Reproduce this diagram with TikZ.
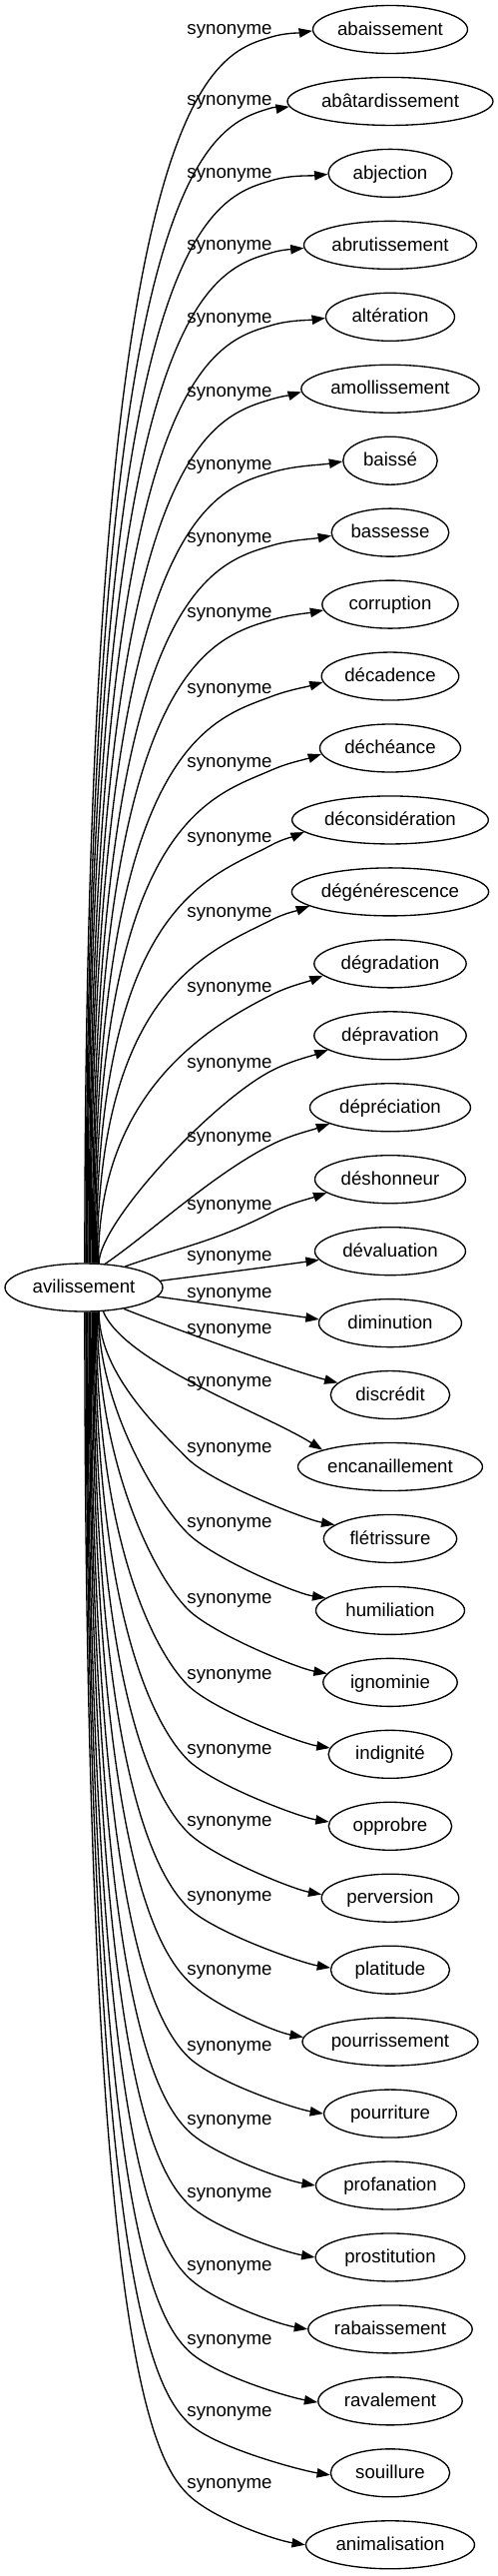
\documentclass[tikz,border=0pt]{standalone}
\usepackage{fontspec}
\setmainfont{Liberation Sans}
\usetikzlibrary{arrows.meta,shapes.geometric}
\begin{document}
\begin{tikzpicture}[x=0.75pt,y=-0.75pt,
  every node/.style={font=\fontsize{14pt}{16pt}\selectfont, inner sep=0pt, text height=11pt, text depth=2.5pt},
  word/.style={ellipse, draw, line width=1pt, minimum height=36pt},
  lab/.style={},
  edge/.style={draw, line width=1pt, -{Triangle[length=10pt,width=7pt]}}
]
\fill[white] (0,0) rectangle (499,2579);
\useasboundingbox (0,0) rectangle (499,2579);
\node[word, minimum width=118.5pt] (src) at (84,1289) {avilissement};
\foreach \i/\txt/\w/\L/\v in {
0/abaissement/155/29/1.5,
1/abâtardissement/206/100/6,
2/abjection/124/172.7/0.6,
3/abrutissement/173/245/2.3,
4/altération/129/317.7/1,
5/amollissement/178.3/391.7/3.7,
6/baissé/94.4/465/1,
7/bassesse/117.6/538.3/3.4,
8/corruption/136.3/612.7/5.7,
9/décadence/137.6/689.3/6,
10/déchéance/141/763/6,
11/déconsidération/196.7/838/12,
12/dégénérescence/197.3/913/14,
13/dégradation/152.4/988/12,
14/dépravation/152.4/1064/14,
15/dépréciation/161/1138/16,
16/déshonneur/151/1206/13,
17/dévaluation/151/1257.3/9,
18/diminution/143/1294/-4,
19/discrédit/119.3/1330/-12,
20/encanaillement/185/1382.7/-16.6,
21/flétrissure/133.3/1449.3/-14,
22/humiliation/149/1524/-12,
23/ignominie/134.4/1600/-9,
24/indignité/123.7/1676/-6,
25/opprobre/123.3/1750.7/-4,
26/perversion/137.6/1823.3/-4,
27/platitude/119/1898.3/-2,
28/pourrissement/176/1971.7/-5,
29/pourriture/132.7/2047.7/0,
30/profanation/149/2121.7/0,
31/prostitution/149.7/2195/0,
32/rabaissement/164.4/2268.3/0,
33/ravalement/144.4/2341.7/1,
34/souillure/119.3/2414/2.5,
35/animalisation/169/2486/0.5}{
  \pgfmathsetmacro\yy{29.5+71.95*\i}
  \node[word, minimum width=\w*0.75pt] (t\i) at (391,\yy) {\txt};
  \node[lab] (l\i) at (230,\L) {synonyme};
  \pgfmathsetmacro\dx{(\w/2)*sqrt(1-(\v/24)^2)}
  \pgfmathsetmacro\Ex{391-\dx}
  \pgfmathsetmacro\Ey{\yy+\v}
  \pgfmathtruncatemacro\eb{round(180+atan2(\v,\dx))}
  % upper edges
  \ifnum\i<17
    \ifnum\i<15 \pgfmathsetmacro\xs{85+\i}\fi
    \ifnum\i=15 \def\xs{105}\fi
    \ifnum\i=16 \def\xs{125}\fi
    \pgfmathsetmacro\sn{sqrt(1-((\xs-84)/79)^2)}
    \pgfmathtruncatemacro\al{round(atan2(24*\sn,\xs-84))}
    \pgfmathsetmacro\Sy{1289-24*\sn}
    \pgfmathsetmacro\Ky{\L+8}
    \pgfmathsetmacro\hh{\Sy-\Ky}
    \pgfmathsetmacro\cc{45+110*exp(-(\hh-191)/100)}
    \pgfmathsetmacro\Pay{\Ky+\cc}
    \edef\Pax{\xs}
    \ifnum\i=15 \def\Pax{150}\def\Pay{1235}\fi
    \ifnum\i=16 \def\Pax{175}\def\Pay{1250}\fi
    \pgfmathsetmacro\mm{(\Ey-\Ky)/(\Ex-272)}
    \pgfmathsetmacro\mk{min(1.4*\mm,-0.3)}
    \pgfmathsetmacro\Pby{\Ky-60*\mk}
    \pgfmathsetmacro\dd{(\Ex-272)/3}
    \pgfmathsetmacro\Pcx{272+\dd}
    \pgfmathsetmacro\Pcy{\Ky+\dd*\mk}
    \pgfmathsetmacro\Pdx{\Ex-\dd}
    \pgfmathsetmacro\Pdy{\Ey-\dd*\mm}
    \coordinate (k\i) at (272,\Ky);
    \draw[edge] (src.\al) .. controls (\Pax,\Pay) and (212,\Pby) .. (k\i)
      .. controls (\Pcx,\Pcy) and (\Pdx,\Pdy) .. (t\i.\eb);
  \fi
  % near-centre edges
  \ifnum\i>16 \ifnum\i<21
    \ifnum\i=17 \def\xs{160}\def\sg{1}\fi
    \ifnum\i=18 \def\xs{157}\def\sg{-1}\fi
    \ifnum\i=19 \def\xs{123}\def\sg{-1}\fi
    \ifnum\i=20 \def\xs{103}\def\sg{-1}\fi
    \pgfmathsetmacro\sn{sqrt(1-((\xs-84)/79)^2)}
    \pgfmathtruncatemacro\al{round(mod(360+(\sg)*atan2(24*\sn,\xs-84),360))}
    \pgfmathsetmacro\Sy{1289-(\sg)*24*\sn}
    \pgfmathsetmacro\Pax{\xs+(\Ex-\xs)/3}
    \pgfmathsetmacro\Pay{\Sy+(\Ey-\Sy)/3}
    \pgfmathsetmacro\Pbx{\xs+2*(\Ex-\xs)/3}
    \pgfmathsetmacro\Pby{\Sy+2*(\Ey-\Sy)/3}
    \ifnum\i=19 \def\Pax{168}\def\Pay{1328}\def\Pbx{290}\def\Pby{1372}\fi
    \ifnum\i=20 \def\Pax{125}\def\Pay{1365}\def\Pbx{265}\def\Pby{1415}\fi
    \draw[edge] (src.\al) .. controls (\Pax,\Pay) and (\Pbx,\Pby) .. (t\i.\eb);
  \fi\fi
  % lower edges
  \ifnum\i>20
    \pgfmathsetmacro\xs{85+35-\i}
    \pgfmathsetmacro\sn{sqrt(1-((\xs-84)/79)^2)}
    \pgfmathtruncatemacro\al{round(360-atan2(24*\sn,\xs-84))}
    \pgfmathsetmacro\Sy{1289+24*\sn}
    \pgfmathsetmacro\Ky{\L+11}
    \pgfmathsetmacro\hh{\Ky-\Sy}
    \pgfmathsetmacro\cc{min(150,0.6*\hh)}
    \pgfmathsetmacro\Pay{\Ky-\cc}
    \pgfmathsetmacro\Pby{\Ky-35}
    \pgfmathsetmacro\Pcy{\Ky+25}
    \pgfmathsetmacro\Pdx{\Ex-30}
    \pgfmathsetmacro\Pdy{\Ey-5}
    \coordinate (k\i) at (188,\Ky);
    \draw[edge] (src.\al) .. controls (\xs,\Pay) and (153,\Pby) .. (k\i)
      .. controls (213,\Pcy) and (\Pdx,\Pdy) .. (t\i.\eb);
  \fi
}
\end{tikzpicture}
\end{document}
